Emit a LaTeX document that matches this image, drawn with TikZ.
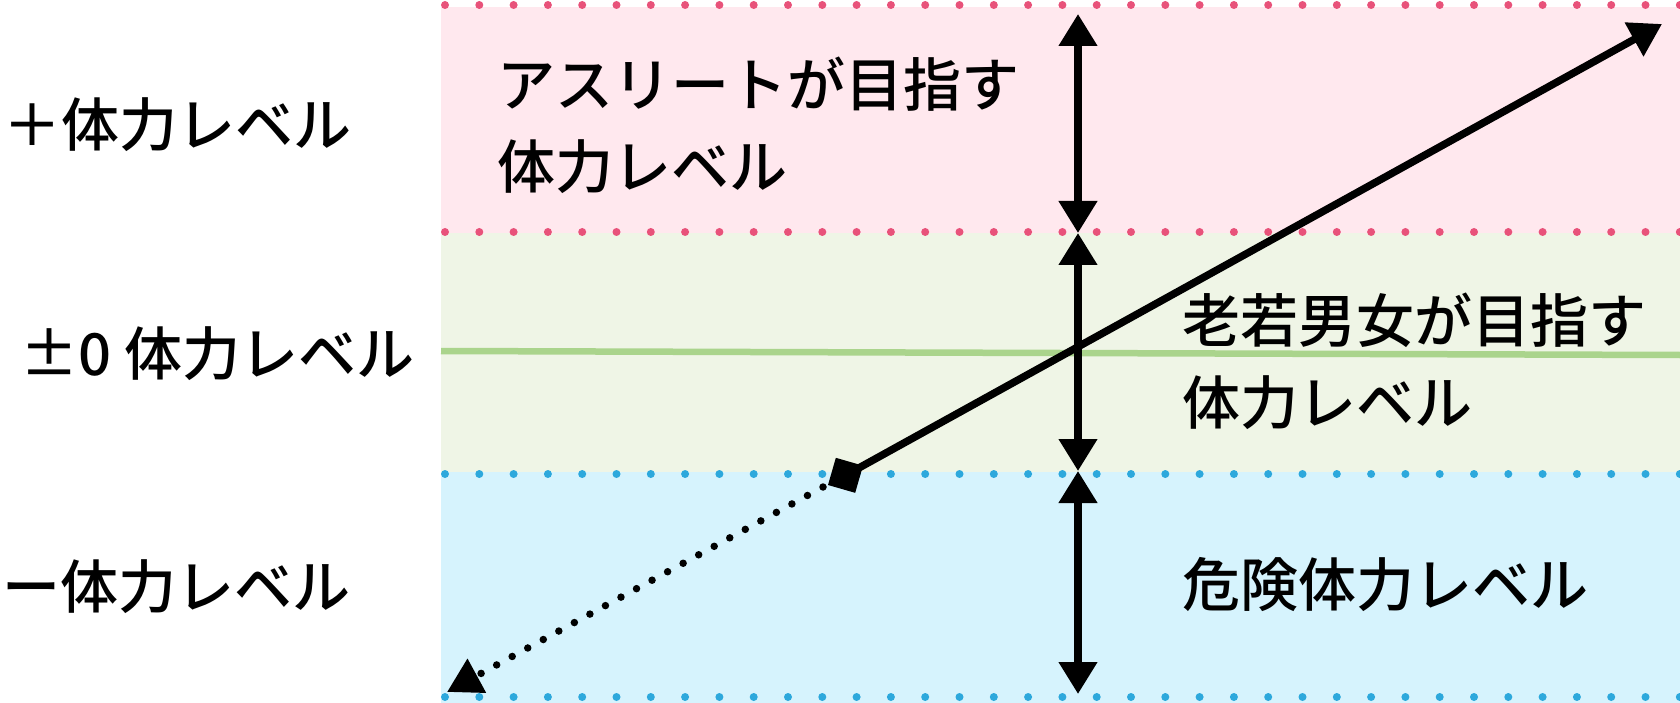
\documentclass[tikz,border=0pt]{standalone}
\usepackage{fontspec}
\newfontfamily\jp{Noto Sans CJK JP}[UprightFont={* Medium}]
\usetikzlibrary{arrows.meta}
\definecolor{pinkfill}{RGB}{255,232,238}
\definecolor{greenfill}{RGB}{239,245,230}
\definecolor{bluefill}{RGB}{214,243,253}
\definecolor{pinkdot}{RGB}{232,82,122}
\definecolor{bluedot}{RGB}{45,168,220}
\definecolor{greenline}{RGB}{170,212,140}
\tikzset{
  dotline/.style={line width=8pt,line cap=round,dash pattern=on 0pt off 34.3pt},
  lvarrow/.style={line width=7.5pt,{Triangle[length=32pt,width=37pt]}-{Triangle[length=32pt,width=37pt]}},
  lbl/.style={anchor=west,inner sep=0pt,align=left,font=\jp\fontsize{58}{82}\selectfont}
}
\begin{document}
\begin{tikzpicture}[x=1pt,y=-1pt]
    \useasboundingbox (0,0) rectangle (1680,703);
    % bands
    \fill[pinkfill] (441,7) rectangle (1680,233);
    \fill[greenfill] (441,233) rectangle (1680,472);
    \fill[bluefill] (441,472) rectangle (1680,703);
    \draw[dotline,pinkdot] (445,5) -- (1680,5);
    \draw[dotline,pinkdot] (445,232) -- (1680,232);
    \draw[dotline,bluedot] (445,474) -- (1680,474);
    \draw[dotline,bluedot] (445,697) -- (1680,697);
    \draw[line width=6.5pt,greenline] (441,351) -- (1680,355);

    % level arrows
    \coordinate (t0) at (1078,14);
    \coordinate (t1) at (1078,233);
    \coordinate (t2) at (1078,471);
    \coordinate (t3) at (1078,694);
    \draw[lvarrow] (t0) -- (t1);
    \draw[lvarrow] (t1) -- (t2);
    \draw[lvarrow] (t2) -- (t3);

    % diagonal
    \coordinate (dstart) at (828,485);
    \coordinate (tipR) at (1662,24);
    \coordinate (dotstart) at (823,487);
    \coordinate (tipL) at (447,692);
    \draw[line width=7.5pt,{Diamond[length=40pt,width=40pt]}-{Triangle[length=32pt,width=37pt]}] (dstart) -- (tipR);
    \draw[line width=7.5pt,line cap=round,dash pattern=on 0pt off 17.7pt,-{Triangle[length=34pt,width=37pt]}] (dotstart) -- (tipL);

    % labels
    \node[lbl] (plus) at (3,125) {＋体力レベル};
    \node[lbl] (zero) at (20,354) {±0 体力レベル};
    \node[lbl] (minus) at (2,587) {ー体力レベル};
    \node[lbl] (athlete) at (497,125) {アスリートが目指す\\体力レベル};
    \node[lbl] (all) at (1182,361) {老若男女が目指す\\体力レベル};
    \node[lbl] (danger) at (1182,585) {危険体力レベル};
\end{tikzpicture}
\end{document}
